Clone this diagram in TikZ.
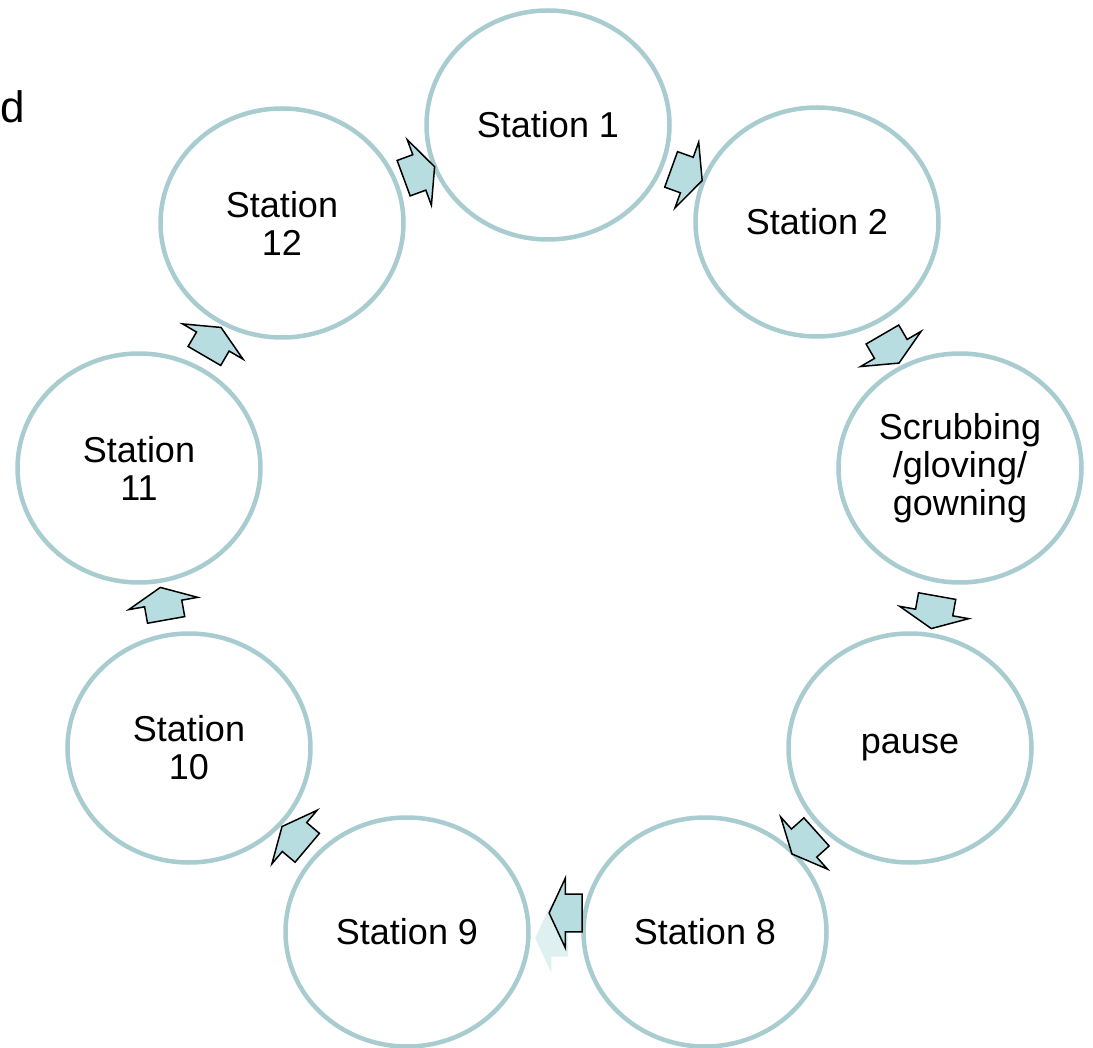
\documentclass[tikz,border=0pt]{standalone}
\usepackage{fontspec}
\setmainfont{Liberation Sans}
\usetikzlibrary{shapes.geometric,shapes.arrows}
\definecolor{ringline}{HTML}{A8CCD0}
\definecolor{arrowfill}{HTML}{B7DDE1}
\begin{document}
\begin{tikzpicture}[x=1pt,y=-1pt,
	station/.style={ellipse,draw=ringline,line width=4.5pt,minimum width=243pt,minimum height=229pt,
		align=center,inner sep=0pt,font=\fontsize{36}{38}\selectfont},
	flowarrow/.style={single arrow,draw=black,line width=1.5pt,fill=arrowfill,inner xsep=0pt,inner ysep=18pt,
		minimum height=33pt,minimum width=70pt,single arrow head extend=16pt,
		single arrow tip angle=130,sloped,allow upside down},
	ghostarrow/.style={single arrow,fill=arrowfill,fill opacity=.45,inner xsep=0pt,inner ysep=18pt,
		minimum height=33pt,minimum width=70pt,single arrow head extend=16pt,
		single arrow tip angle=130}]
	\useasboundingbox (0,0) rectangle (1093,1048);
	
	\node (cut) at (0,123) [anchor=base west,inner sep=0pt,font=\fontsize{44}{46}\selectfont] {d};
	
	% ring of stations
	\node (s1) at (548,125) [station] {Station 1};
	\node (s2) at (817,222) [station] {Station 2};
	\node (scrub) at (960,468) [station] {Scrubbing\\/gloving/\\gowning};
	\node (pause) at (910,748) [station] {\raisebox{-6pt}{pause}};
	\node (s8) at (705,932) [station] {Station 8};
	\node (s9) at (407,932) [station] {Station 9};
	\node (s10) at (189,748) [station] {Station\\10};
	\node (s11) at (139,468) [station] {Station\\11};
	\node (s12) at (282,223) [station] {Station\\12};
	
	% arrows between stations
	\path (s12) -- (s1) node [flowarrow,midway] (a1) {};
	\path (s1) -- (s2) node [flowarrow,midway] (a2) {};
	\path (s2) -- (scrub) node [flowarrow,midway] (a3) {};
	\path (scrub) -- (pause) node [flowarrow,midway] (a4) {};
	\path (pause) -- (s8) node [flowarrow,midway] (a5) {};
	\node (a6g) at (556,938) [ghostarrow,rotate=180] {};
	\node (a6) at (570,913) [flowarrow,rotate=180] {};
	\path (s9) -- (s10) node [flowarrow,midway] (a7) {};
	\path (s10) -- (s11) node [flowarrow,midway] (a8) {};
	\path (s11) -- (s12) node [flowarrow,midway] (a9) {};
\end{tikzpicture}
\end{document}
